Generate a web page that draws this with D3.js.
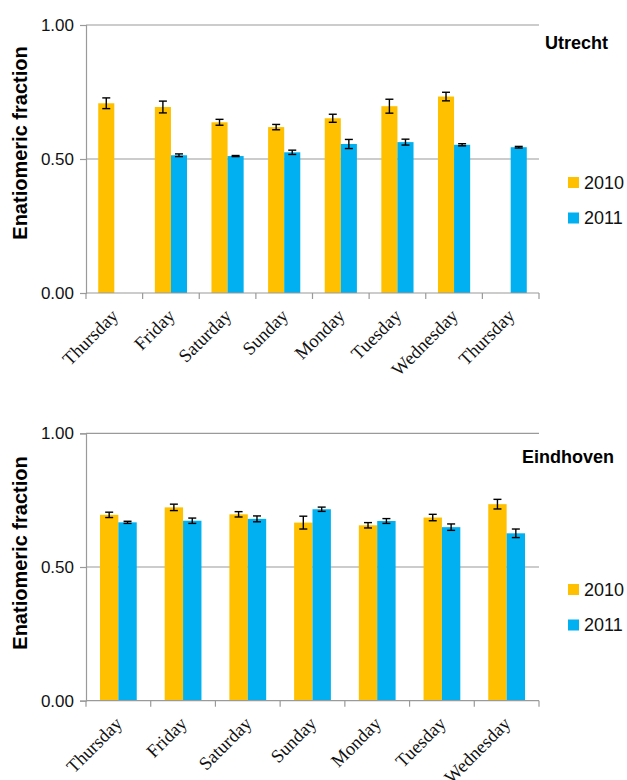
<!DOCTYPE html>
<html>
<head>
<meta charset="utf-8">
<script src="https://cdn.jsdelivr.net/npm/d3@7"></script>
<style>
  body { margin: 0; background: #fff; }
  svg { display: block; }
</style>
</head>
<body>
<div id="chart"></div>
<script>
// values
const years = ["2010", "2011"];

const utrechtDays = ["Thursday", "Friday", "Saturday", "Sunday", "Monday", "Tuesday", "Wednesday", "Thursday"];
const utrecht2010 = [0.708, 0.694, 0.637, 0.619, 0.652, 0.697, 0.733, null];
const utrecht2010Err = [0.020, 0.022, 0.011, 0.010, 0.015, 0.026, 0.016, null];
const utrecht2011 = [null, 0.514, 0.511, 0.525, 0.556, 0.563, 0.553, 0.544];
const utrecht2011Err = [null, 0.005, 0.002, 0.008, 0.017, 0.011, 0.004, 0.003];

const eindhovenDays = ["Thursday", "Friday", "Saturday", "Sunday", "Monday", "Tuesday", "Wednesday"];
const eindhoven2010 = [0.695, 0.723, 0.697, 0.666, 0.656, 0.685, 0.735];
const eindhoven2010Err = [0.010, 0.012, 0.010, 0.024, 0.010, 0.012, 0.018];
const eindhoven2011 = [0.667, 0.673, 0.680, 0.716, 0.672, 0.649, 0.626];
const eindhoven2011Err = [0.004, 0.010, 0.011, 0.008, 0.009, 0.012, 0.016];

const yTicks = [0, 0.5, 1];
const colors = { "2010": "#FFC000", "2011": "#00B0F0" };
const axisGray = "#9a9a9a";

const svg = d3.select("#chart").append("svg")
  .attr("width", 627)
  .attr("height", 780);

function drawPanel(opt) {
  const g = svg.append("g");
  const left = 86, right = 539;

  const x = d3.scaleBand()
    .domain(d3.range(opt.days.length))
    .range([left, right])
    .padding(0);
  const x1 = d3.scaleBand()
    .domain(years)
    .range([0, x.bandwidth()])
    .paddingInner(0)
    .paddingOuter(0.76);
  const y = d3.scaleLinear()
    .domain([0, 1])
    .range([opt.bottom, opt.top]);

  // gridlines
  g.selectAll("line.grid")
    .data(yTicks.filter(d => d > 0))
    .enter().append("line")
    .attr("class", "grid")
    .attr("x1", left).attr("x2", right)
    .attr("y1", d => y(d)).attr("y2", d => y(d))
    .attr("stroke", axisGray).attr("stroke-width", 1.2);

  // bars
  const rows = [];
  opt.days.forEach(function (d, i) {
    if (opt.s2010[i] != null) rows.push({ i: i, year: "2010", v: opt.s2010[i], e: opt.e2010[i] });
    if (opt.s2011[i] != null) rows.push({ i: i, year: "2011", v: opt.s2011[i], e: opt.e2011[i] });
  });

  g.selectAll("rect.bar")
    .data(rows)
    .enter().append("rect")
    .attr("class", "bar")
    .attr("x", d => x(d.i) + x1(d.year))
    .attr("width", x1.bandwidth())
    .attr("y", d => y(d.v))
    .attr("height", d => y(0) - y(d.v))
    .attr("fill", d => colors[d.year]);

  // error bars
  const err = g.selectAll("g.err")
    .data(rows)
    .enter().append("g")
    .attr("class", "err")
    .attr("stroke", "#000")
    .attr("stroke-width", 1.4);
  const cx = d => x(d.i) + x1(d.year) + x1.bandwidth() / 2;
  err.append("line")
    .attr("x1", cx).attr("x2", cx)
    .attr("y1", d => y(d.v + d.e)).attr("y2", d => y(d.v - d.e));
  err.append("line")
    .attr("x1", d => cx(d) - 4).attr("x2", d => cx(d) + 4)
    .attr("y1", d => y(d.v + d.e)).attr("y2", d => y(d.v + d.e));
  err.append("line")
    .attr("x1", d => cx(d) - 4).attr("x2", d => cx(d) + 4)
    .attr("y1", d => y(d.v - d.e)).attr("y2", d => y(d.v - d.e));

  // y axis
  const yAxis = g.append("g")
    .attr("transform", "translate(" + left + ",0)")
    .call(d3.axisLeft(y).tickValues(yTicks).tickFormat(d3.format(".2f")).tickSize(6).tickPadding(6));
  yAxis.select(".domain").attr("stroke", axisGray).attr("stroke-width", 1.2);
  yAxis.selectAll(".tick line").attr("stroke", axisGray).attr("stroke-width", 1.2);
  yAxis.selectAll(".tick text")
    .attr("font-family", "Liberation Sans, Arial, sans-serif")
    .attr("font-size", 17)
    .attr("fill", "#111");

  // x axis line and boundary ticks
  g.append("line")
    .attr("x1", left).attr("x2", right)
    .attr("y1", y(0)).attr("y2", y(0))
    .attr("stroke", axisGray).attr("stroke-width", 1.2);
  const bounds = opt.days.map((d, i) => x(i)).concat([right]);
  g.selectAll("line.xtick")
    .data(bounds)
    .enter().append("line")
    .attr("class", "xtick")
    .attr("x1", d => d).attr("x2", d => d)
    .attr("y1", y(0)).attr("y2", y(0) + 6)
    .attr("stroke", axisGray).attr("stroke-width", 1.2);

  g.selectAll("text.xlab")
    .data(opt.days)
    .enter().append("text")
    .attr("class", "xlab")
    .attr("transform", (d, i) => "translate(" + (x(i) + x.bandwidth() / 2 + 5) + "," + (y(0) + 24) + ")rotate(-45)")
    .attr("text-anchor", "end")
    .attr("font-family", "Liberation Serif, Times New Roman, serif")
    .attr("font-size", 18.5)
    .attr("fill", "#111")
    .text(d => d);

  // y title
  g.append("text")
    .attr("transform", "translate(27," + opt.titleY + ")rotate(-90)")
    .attr("text-anchor", "middle")
    .attr("font-family", "Liberation Sans, Arial, sans-serif")
    .attr("font-weight", "bold")
    .attr("font-size", 20)
    .attr("fill", "#000")
    .text("Enatiomeric fraction");

  // panel title
  g.append("text")
    .attr("x", opt.nameX)
    .attr("y", opt.nameY)
    .attr("font-family", "Liberation Sans, Arial, sans-serif")
    .attr("font-weight", "bold")
    .attr("font-size", 18)
    .attr("fill", "#000")
    .text(opt.name);

  // legend
  const leg = g.selectAll("g.leg")
    .data(years)
    .enter().append("g")
    .attr("class", "leg")
    .attr("transform", (d, i) => "translate(568," + (opt.legendY + i * 35.5) + ")");
  leg.append("rect")
    .attr("width", 11).attr("height", 11)
    .attr("fill", d => colors[d]);
  leg.append("text")
    .attr("x", 16).attr("y", 11.5)
    .attr("font-family", "Liberation Sans, Arial, sans-serif")
    .attr("font-size", 18)
    .attr("fill", "#111")
    .text(d => d);
}

drawPanel({
  days: utrechtDays,
  s2010: utrecht2010, e2010: utrecht2010Err,
  s2011: utrecht2011, e2011: utrecht2011Err,
  top: 25, bottom: 293,
  titleY: 143,
  name: "Utrecht", nameX: 545, nameY: 49,
  legendY: 177
});

drawPanel({
  days: eindhovenDays,
  s2010: eindhoven2010, e2010: eindhoven2010Err,
  s2011: eindhoven2011, e2011: eindhoven2011Err,
  top: 433.3, bottom: 700.7,
  titleY: 553,
  name: "Eindhoven", nameX: 522, nameY: 463,
  legendY: 584
});
</script>
</body>
</html>
